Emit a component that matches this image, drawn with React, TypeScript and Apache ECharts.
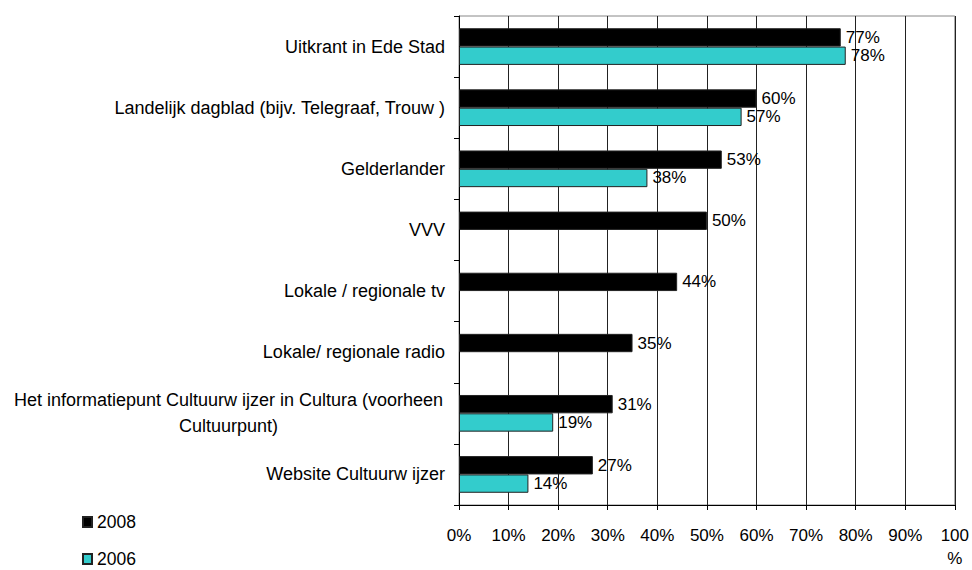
import React, { useEffect, useRef } from "react";
import * as echarts from "echarts";

const categories = [
  "Uitkrant in Ede Stad",
  "Landelijk dagblad (bijv. Telegraaf, Trouw )",
  "Gelderlander",
  "VVV",
  "Lokale / regionale tv",
  "Lokale/ regionale radio",
  "Het informatiepunt Cultuurw ijzer in Cultura (voorheen\nCultuurpunt)",
  "Website Cultuurw ijzer",
];
const values2008 = [77, 60, 53, 50, 44, 35, 31, 27];
const values2006: (number | null)[] = [78, 57, 38, null, null, null, 19, 14];
const seriesNames = ["2008", "2006"];
const xTicks = [0, 10, 20, 30, 40, 50, 60, 70, 80, 90, 100];

const FONT = "'Liberation Sans', Arial, sans-serif";

const legendBase = {
  orient: "vertical",
  left: 77,
  itemWidth: 9,
  itemHeight: 10,
  icon: "rect",
  textStyle: { fontSize: 17.5, color: "#000", fontFamily: FONT },
};

export default function App() {
  const ref = useRef<HTMLDivElement>(null);
  useEffect(() => {
    if (!ref.current) return;
    const chart = echarts.init(ref.current, null, { renderer: "svg" });
    const labelCfg = {
      show: true,
      position: "right",
      distance: 5,
      fontSize: 17,
      color: "#000",
      fontFamily: FONT,
      formatter: (p: any) => p.value + "%",
    };
    chart.setOption({
      animation: false,
      textStyle: { fontFamily: FONT, color: "#000" },
      grid: {
        left: 459,
        right: 15,
        top: 16,
        bottom: 57,
        show: true,
        borderColor: "#888",
        borderWidth: 1,
      },
      legend: [
        { ...legendBase, top: 508, data: [seriesNames[0]] },
        { ...legendBase, top: 545, data: [seriesNames[1]] },
      ],
      xAxis: {
        type: "value",
        min: xTicks[0],
        max: xTicks[xTicks.length - 1],
        interval: 10,
        axisLine: { show: true, lineStyle: { color: "#000", width: 1 } },
        axisTick: { show: true, length: 5, inside: false, lineStyle: { color: "#000" } },
        splitLine: { show: true, lineStyle: { color: "#222", width: 1 } },
        axisLabel: {
          margin: 19,
          fontSize: 17,
          lineHeight: 23,
          color: "#000",
          fontFamily: FONT,
          formatter: (v: number) => (v === 100 ? "100\n%" : v + "%"),
        },
      },
      yAxis: {
        type: "category",
        inverse: true,
        data: categories,
        axisLine: { show: true, lineStyle: { color: "#000", width: 1 } },
        axisTick: { show: true, length: 5, lineStyle: { color: "#000" } },
        splitLine: { show: false },
        axisLabel: {
          margin: 14,
          fontSize: 18,
          color: "#000",
          fontFamily: FONT,
          formatter: (v: string) =>
            v.indexOf("\n") >= 0
              ? v
                  .split("\n")
                  .map((l) => `{c|${l}}`)
                  .join("\n")
              : v,
          rich: {
            c: { width: 433, align: "center", fontSize: 18, lineHeight: 26, fontFamily: FONT, color: "#000" },
          },
        },
      },
      series: [
        {
          name: seriesNames[0],
          type: "bar",
          data: values2008,
          barGap: "0%",
          barCategoryGap: "40%",
          itemStyle: { color: "#000", borderColor: "#222", borderWidth: 1 },
          label: labelCfg,
        },
        {
          name: seriesNames[1],
          type: "bar",
          data: values2006,
          barGap: "0%",
          barCategoryGap: "40%",
          itemStyle: { color: "#33CCCC", borderColor: "#222", borderWidth: 1 },
          label: labelCfg,
        },
      ],
    });
    return () => chart.dispose();
  }, []);
  return <div ref={ref} style={{ width: 972, height: 570, position: "absolute", left: 0, top: 0 }} />;
}
